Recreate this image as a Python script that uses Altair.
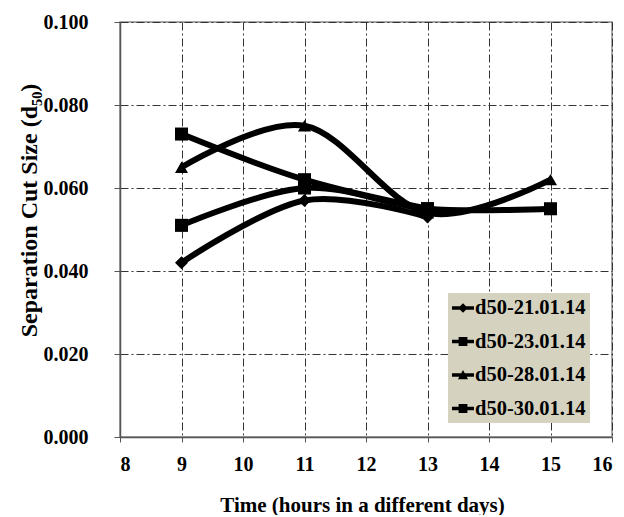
import altair as alt
import pandas as pd

# ---- data ----
hours = [9, 11, 13, 15]
series_names = ["d50-21.01.14", "d50-23.01.14", "d50-28.01.14", "d50-30.01.14"]
d50_21 = [0.042, 0.057, 0.053, None]
d50_23 = [0.051, 0.060, 0.055, 0.055]
d50_28 = [0.065, 0.075, 0.054, 0.062]
d50_30 = [0.073, 0.062, 0.055, None]

x_ticks = [8, 9, 10, 11, 12, 13, 14, 15, 16]
y_ticks = [0.0, 0.02, 0.04, 0.06, 0.08, 0.1]

rows = []
for name, vals in zip(series_names, [d50_21, d50_23, d50_28, d50_30]):
    for h, v in zip(hours, vals):
        if v is not None:
            rows.append({"series": name, "hour": h, "d50": v})
df = pd.DataFrame(rows)

FONT = "Liberation Serif"

plot_shapes = ["diamond", "square", "triangle-up", "square"]
LINE = "M-1,-0.17H1V0.17H-1Z"
legend_shapes = [
    LINE + "M0,-0.44L0.44,0L0,0.44L-0.44,0Z",
    LINE + "M-0.4,-0.4H0.4V0.4H-0.4Z",
    LINE + "M0,-0.46L0.46,0.38H-0.46Z",
    LINE + "M-0.4,-0.4H0.4V0.4H-0.4Z",
]

x_enc = alt.X(
    "hour:Q",
    scale=alt.Scale(domain=[8, 16], nice=False, zero=False),
    axis=alt.Axis(
        values=x_ticks, format="d", title="Time (hours in a different days)",
        titleX=242, titleY=68, titleBaseline="middle", titleAlign="center",
        labelPadding=12, tickSize=5, titleFontSize=21,
    ),
)
y_enc = alt.Y(
    "d50:Q",
    scale=alt.Scale(domain=[0, 0.1], nice=False),
    axis=alt.Axis(
        values=y_ticks, format=".3f", title="Separation Cut Size (d₅₀)",
        titleX=-91, titleY=188, titleAngle=270, titleBaseline="middle",
        titleAlign="center", labelPadding=26, tickSize=6, titleFontSize=24,
    ),
)

lines = alt.Chart(df).mark_line(
    interpolate="cardinal", color="black", strokeWidth=6
).encode(x=x_enc, y=y_enc, detail="series:N")

points = alt.Chart(df).mark_point(filled=True, color="black", opacity=1, size=170).encode(
    x="hour:Q",
    y="d50:Q",
    shape=alt.Shape("series:N", scale=alt.Scale(domain=series_names, range=plot_shapes), legend=None),
)

legend_layer = alt.Chart(df).transform_filter("datum.hour < 0").mark_point(
    filled=True, color="black", size=484
).encode(
    x="hour:Q",
    y="d50:Q",
    shape=alt.Shape(
        "series:N",
        scale=alt.Scale(domain=series_names, range=legend_shapes),
        legend=alt.Legend(
            title=None, orient="none", legendX=328, legendY=271,
            fillColor="#D5D3C0", padding=4, rowPadding=11.5,
            labelFont=FONT, labelFontSize=20.5, labelFontWeight="bold",
            labelColor="black", labelOffset=1, symbolSize=484,
            symbolFillColor="black", symbolStrokeWidth=0, symbolOpacity=1,
        ),
    ),
)

chart = (
    alt.layer(lines, points, legend_layer)
    .resolve_scale(shape="independent")
    .properties(
        width=492, height=415,
        autosize=alt.AutoSizeParams(type="none"),
        padding={"left": 112, "top": 14, "right": 4, "bottom": 78},
        background="white",
    )
    .configure_view(stroke="#8a8a8a", strokeWidth=1.5)
    .configure_axis(
        labelFont=FONT, labelFontSize=20, labelFontWeight="bold", labelColor="black",
        titleFont=FONT, titleFontWeight="bold", titleColor="black",
        domainColor="#555555", domainWidth=1.5, tickColor="#555555",
        gridColor="#333333", gridWidth=1, gridDash=[8, 3, 2, 3], grid=True,
    )
)

chart.save("out.html", embed_options={"renderer": "svg", "actions": False})
